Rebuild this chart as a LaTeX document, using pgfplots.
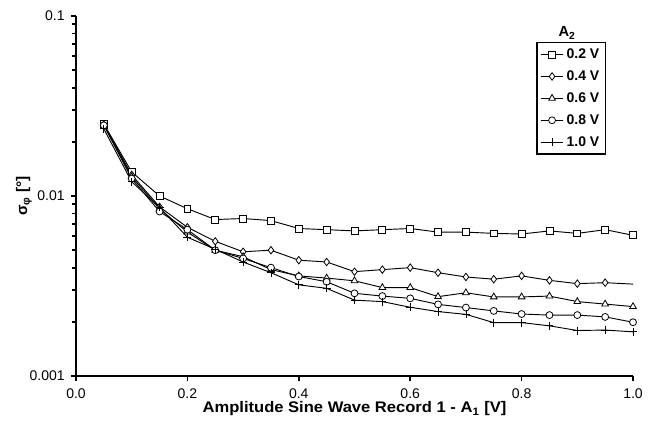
\documentclass[border=0pt]{standalone}
\usepackage{fontspec}
\setmainfont{Liberation Sans}
\usepackage{pgfplots}
\pgfplotsset{compat=1.18}

\begin{document}
\begin{tikzpicture}
\begin{axis}[
  scale only axis,
  width=417.75pt, height=270pt,
  ymode=log,
  xmin=0, xmax=1, ymin=0.001, ymax=0.1,
  axis lines=left,
  axis line style={-, line width=1.4pt},
  xtick={0,0.2,0.4,0.6,0.8,1.0},
  xticklabels={0.0,0.2,0.4,0.6,0.8,1.0},
  ytick={0.001,0.01,0.1},
  yticklabels={0.001,0.01,0.1},
  minor ytick={}, minor tick num=0,
  tick align=outside, major tick length=4pt,
  tick style={line width=1.3pt, black},
  ticklabel style={font=\fontsize{10.5}{12}\selectfont},
  xticklabel style={yshift=-2pt},
  yticklabel style={xshift=-1pt},
  xlabel={\scalebox{1.08}[1]{\textbf{Amplitude Sine Wave Record 1 - A\textsubscript{1} [V]}}},
  ylabel={\textbf{σ\textsubscript{φ} [°]}},
  label style={font=\fontsize{11.5}{13}\selectfont},
  xlabel style={at={(axis description cs:0.5,-0.0917)}, anchor=center},
  ylabel style={at={(axis description cs:-0.0934,0.5)}, anchor=center},
  legend style={at={(0.9515,0.928)}, anchor=north east, draw=black, line width=1.1pt,
    font=\bfseries\fontsize{10.5}{12}\selectfont, cells={anchor=west},
    row sep=3.6pt, inner sep=2.5pt},
  legend cell align=left,
  every axis plot/.append style={black, line width=0.7pt, mark options={solid, fill=white, line width=0.6pt}},
  clip=false,
]
\addplot[mark=square*, mark size=2.6pt] coordinates {
  (0.05,0.0251) (0.10,0.0136) (0.15,0.0100) (0.20,0.0085) (0.25,0.0074)
  (0.30,0.0075) (0.35,0.0073) (0.40,0.0066) (0.45,0.0065) (0.50,0.0064)
  (0.55,0.0065) (0.60,0.0066) (0.65,0.0063) (0.70,0.0063) (0.75,0.0062)
  (0.80,0.00615) (0.85,0.0064) (0.90,0.0062) (0.95,0.0065) (1.00,0.00605)};
\addlegendentry{0.2 V}
\addplot[mark=diamond*, mark size=2.8pt, mark indices={1,...,19}, forget plot] coordinates {
  (0.05,0.0248) (0.10,0.0131) (0.15,0.0087) (0.20,0.0067) (0.25,0.0056)
  (0.30,0.0049) (0.35,0.0050) (0.40,0.0044) (0.45,0.0043) (0.50,0.0038)
  (0.55,0.0039) (0.60,0.0040) (0.65,0.00375) (0.70,0.00355) (0.75,0.00345)
  (0.80,0.0036) (0.85,0.0034) (0.90,0.00326) (0.95,0.0033) (1.00,0.00324)};
\addlegendimage{black, line width=0.7pt, mark=diamond*, mark size=2.8pt, mark options={solid, fill=white, line width=0.6pt}}
\addlegendentry{0.4 V}
\addplot[mark=triangle*, mark size=2.9pt] coordinates {
  (0.05,0.0249) (0.10,0.0128) (0.15,0.0085) (0.20,0.0063) (0.25,0.0050)
  (0.30,0.0046) (0.35,0.0039) (0.40,0.0036) (0.45,0.0035) (0.50,0.00338)
  (0.55,0.0031) (0.60,0.0031) (0.65,0.00276) (0.70,0.0029) (0.75,0.00275)
  (0.80,0.00275) (0.85,0.00278) (0.90,0.00259) (0.95,0.00251) (1.00,0.00243)};
\addlegendentry{0.6 V}
\addplot[mark=*, mark size=2.6pt] coordinates {
  (0.05,0.0247) (0.10,0.0125) (0.15,0.0082) (0.20,0.0065) (0.25,0.0050)
  (0.30,0.0045) (0.35,0.0040) (0.40,0.00357) (0.45,0.00334) (0.50,0.00288)
  (0.55,0.00278) (0.60,0.0027) (0.65,0.0025) (0.70,0.0024) (0.75,0.0023)
  (0.80,0.00221) (0.85,0.00218) (0.90,0.00218) (0.95,0.00213) (1.00,0.00199)};
\addlegendentry{0.8 V}
\addplot[mark=+, mark size=3pt] coordinates {
  (0.05,0.0236) (0.10,0.0120) (0.15,0.00865) (0.20,0.0059) (0.25,0.00506)
  (0.30,0.0043) (0.35,0.00375) (0.40,0.00321) (0.45,0.00307) (0.50,0.00264)
  (0.55,0.00259) (0.60,0.00241) (0.65,0.00228) (0.70,0.0022) (0.75,0.00198)
  (0.80,0.00198) (0.85,0.0019) (0.90,0.00179) (0.95,0.0018) (1.00,0.00176)};
\addlegendentry{1.0 V}
\node[font=\bfseries\fontsize{11}{12}\selectfont] at (rel axis cs:0.8815,0.953) {A\textsubscript{2}};
\end{axis}
\pgfresetboundingbox
\path (-57pt,-42pt) rectangle (434.25pt,282pt);
\end{tikzpicture}
\end{document}
